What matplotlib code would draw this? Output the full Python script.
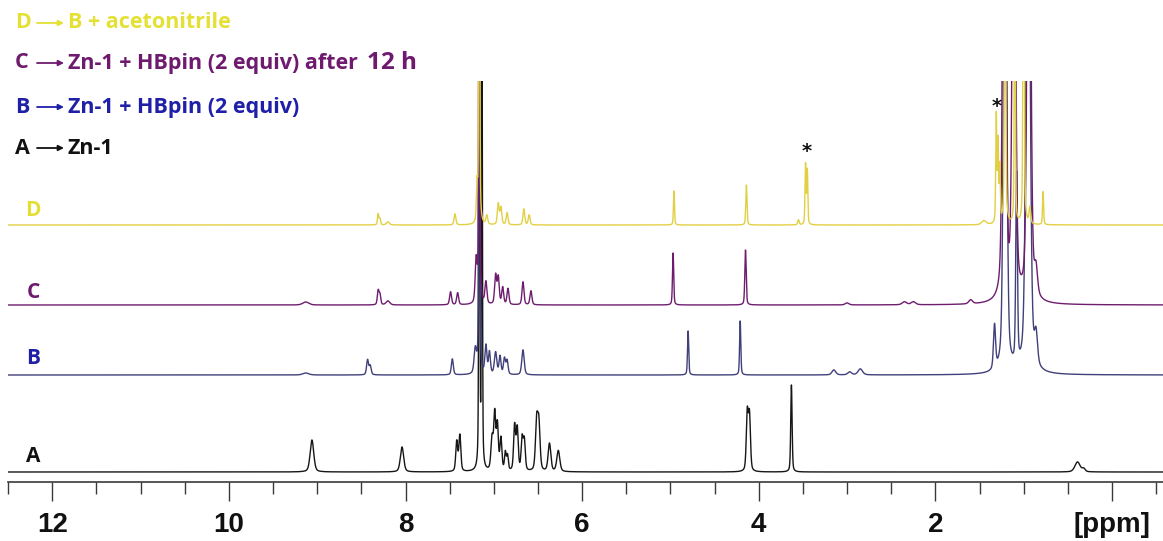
import numpy as np
import matplotlib
matplotlib.use("Agg")
import matplotlib.pyplot as plt
from matplotlib import font_manager
from matplotlib.ticker import FixedLocator, MultipleLocator

# ---- peak tables: shift (ppm), height (display units above the trace baseline), half-width (ppm)
a_shift = [9.06, 8.04, 7.42, 7.385, 7.165, 7.135, 7.02, 6.99, 6.96, 6.92, 6.87, 6.845,
           6.765, 6.735, 6.68, 6.655, 6.515, 6.49, 6.37, 6.27, 4.13, 4.105, 3.63, 0.39, 0.32]
a_height = [32, 25, 30, 36, 600, 500, 32, 55, 45, 32, 18, 15,
            45, 42, 32, 30, 48, 45, 28, 21, 58, 55, 87, 10, 3]
a_width = [0.024, 0.022, 0.013, 0.013, 0.006, 0.006, 0.015, 0.013, 0.013, 0.013, 0.011, 0.011,
           0.013, 0.013, 0.013, 0.013, 0.016, 0.016, 0.018, 0.02, 0.013, 0.013, 0.009, 0.035, 0.02]

b_shift = [9.13, 8.43, 8.40, 7.47, 7.21, 7.165, 7.09, 7.05, 6.98, 6.93, 6.88, 6.85, 6.67,
           4.80, 4.21, 3.15, 2.97, 2.85, 1.33, 1.21, 1.08, 0.95, 0.86]
b_height = [2, 15, 9, 16, 24, 700, 28, 22, 22, 18, 16, 14, 25,
            44, 54, 5, 3, 6, 44, 600, 190, 600, 30]
b_width = [0.04, 0.013, 0.013, 0.013, 0.016, 0.006, 0.013, 0.013, 0.016, 0.013, 0.013, 0.013, 0.016,
           0.008, 0.008, 0.025, 0.025, 0.03, 0.014, 0.02, 0.011, 0.025, 0.02]

c_shift = [9.13, 8.31, 8.29, 8.20, 7.49, 7.41, 7.20, 7.165, 7.09, 6.98, 6.95, 6.90, 6.84,
           6.67, 6.58, 4.97, 4.15, 3.00, 2.35, 2.25, 1.60, 1.22, 1.11, 0.94, 0.86]
c_height = [3, 14, 10, 4, 13, 12, 42, 700, 22, 29, 27, 17, 16,
            23, 14, 52, 55, 2, 3, 3, 4, 600, 600, 600, 25]
c_width = [0.04, 0.011, 0.011, 0.025, 0.013, 0.013, 0.013, 0.006, 0.013, 0.013, 0.013, 0.013, 0.013,
           0.013, 0.013, 0.008, 0.009, 0.025, 0.03, 0.03, 0.025, 0.02, 0.02, 0.022, 0.02]

d_shift = [8.31, 8.29, 8.20, 7.44, 7.19, 7.165, 7.08, 6.95, 6.92, 6.85, 6.66, 6.60,
           4.96, 4.14, 3.55, 3.47, 3.45, 1.45, 1.31, 1.29, 1.27, 1.21, 1.10, 1.00, 0.93, 0.78]
d_height = [11, 6, 3, 11, 36, 600, 9, 21, 17, 12, 16, 10,
            34, 40, 5, 60, 54, 4, 108, 80, 55, 600, 300, 600, 16, 33]
d_width = [0.009, 0.009, 0.02, 0.012, 0.009, 0.006, 0.012, 0.012, 0.012, 0.012, 0.012, 0.012,
           0.007, 0.008, 0.01, 0.007, 0.007, 0.03, 0.007, 0.007, 0.007, 0.007, 0.007, 0.007, 0.011, 0.007]

trace_names = ["A", "B", "C", "D"]
trace_offsets = [10, 107, 177, 257]
trace_colors = ["#161616", "#40407a", "#6e1c6e", "#e2d044"]
name_colors = ["#111111", "#1f1fa8", "#6e1a6e", "#e4de34"]
name_y = [457, 358, 292, 210]

legend_keys = ["D", "C", "B", "A"]
legend_texts = ["B + acetonitrile", "Zn-1 + HBpin (2 equiv) after", "Zn-1 + HBpin (2 equiv)", "Zn-1"]
legend_colors = ["#e4e034", "#6e1a6e", "#1f1fa8", "#111111"]
legend_y = [23, 63, 107, 148]

tick_values = [12, 10, 8, 6, 4, 2, 0]
tick_labels = ["12", "10", "8", "6", "4", "2", "[ppm]"]
star_shifts = [3.46, 1.31]
star_levels = [330, 375]

# ---- fonts
available = {f.name for f in font_manager.fontManager.ttflist}
label_font = "Open Sans" if "Open Sans" in available else "DejaVu Sans"
tick_font = "Liberation Sans" if "Liberation Sans" in available else "DejaVu Sans"

W, H = 1163, 541
fig = plt.figure(figsize=(W / 100, H / 100), dpi=100)
ax = fig.add_axes([8 / W, 59 / H, 1155 / W, 401 / H])

grid = np.linspace(12.6, -0.65, 26000)
LORENTZ_SHARE = 0.4


def build(shifts, heights, widths):
    """Sum of pseudo-Voigt lines (half-width at half maximum = width)."""
    y = np.zeros_like(grid)
    for c, h, w in zip(shifts, heights, widths):
        d2 = (grid - c) ** 2
        lor = w ** 2 / (d2 + w ** 2)
        gau = np.exp(-np.log(2) * d2 / w ** 2)
        y += h * (LORENTZ_SHARE * lor + (1 - LORENTZ_SHARE) * gau)
    return y


tables = [(a_shift, a_height, a_width), (b_shift, b_height, b_width),
          (c_shift, c_height, c_width), (d_shift, d_height, d_width)]
for (s, h, w), off, col in zip(tables, trace_offsets, trace_colors):
    ax.plot(grid, off + build(s, h, w), color=col, lw=1.0, solid_joinstyle="round")

for x, y in zip(star_shifts, star_levels):
    ax.text(x, y, "*", ha="center", va="center", fontsize=14, fontweight="bold", color="#111111")

ax.set_xlim(12.502, -0.578)
ax.set_ylim(0, 401)
for side in ("left", "right", "top"):
    ax.spines[side].set_visible(False)
ax.spines["bottom"].set_color("#3a3a3a")
ax.spines["bottom"].set_linewidth(1.2)
ax.set_yticks([])
ax.xaxis.set_major_locator(FixedLocator(tick_values))
ax.xaxis.set_minor_locator(MultipleLocator(0.5))
ax.set_xticklabels(tick_labels)
ax.tick_params(axis="x", which="major", direction="out", length=13.7, width=1.0,
               color="#3a3a3a", pad=8)
ax.tick_params(axis="x", which="minor", direction="out", length=8.6, width=1.0, color="#3a3a3a")
for t in ax.get_xticklabels():
    t.set_fontfamily(tick_font)
    t.set_fontweight("bold")
    t.set_fontsize(20)
    t.set_color("#111111")

# trace names beside each baseline
for name, y, col in zip(trace_names, name_y, name_colors):
    fig.text(33 / W, 1 - y / H, name, ha="center", va="center", color=col,
             fontsize=15, fontweight="bold", family=label_font)

# sample legend in the upper left
for key, txt, col, y in zip(legend_keys, legend_texts, legend_colors, legend_y):
    yy = 1 - y / H
    fig.text(15 / W, yy, key, ha="left", va="center", color=col, fontsize=15.5,
             fontweight="bold", family=label_font)
    ax.annotate("", xy=(64, H - y), xytext=(37, H - y), xycoords="figure pixels",
                textcoords="figure pixels",
                arrowprops=dict(arrowstyle="-|>", color=col, lw=1.3, mutation_scale=8,
                                shrinkA=0, shrinkB=0))
    t = fig.text(68 / W, yy, txt, ha="left", va="center", color=col, fontsize=15.5,
                 fontweight="bold", family=label_font)
    if key == "C":
        fig.canvas.draw()
        bb = t.get_window_extent()
        fig.text((bb.x1 + 9) / W, yy, "12 h", ha="left", va="center", color=col,
                 fontsize=17.5, fontweight="bold", family=label_font)

fig.savefig("out.png", dpi=100)
